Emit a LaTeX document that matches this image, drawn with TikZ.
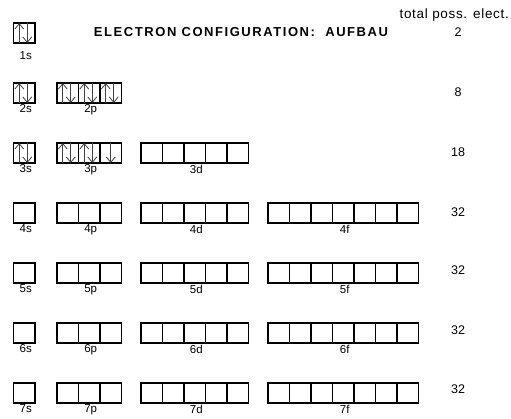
\documentclass[tikz,border=0pt]{standalone}
\usepackage{fontspec}
\setmainfont{Liberation Sans}
\usetikzlibrary{arrows.meta,calc}
\tikzset{
  orb/.style={draw, line width=1.2pt, minimum width=21.5pt, minimum height=20pt,
    inner sep=0pt, outer sep=0pt, anchor=north west},
  sublbl/.style={font=\fontsize{11.5}{12}\selectfont, anchor=north, inner sep=1.5pt},
  numlbl/.style={font=\fontsize{12.5}{13}\selectfont},
  spin/.style={line width=0.8pt, black!75, -{Straight Barb[length=5.5pt,width=9pt]}},
}
% paired electrons / single down electron in box #1
\newcommand\spinpair[1]{%
  \draw[spin] ([xshift=-5pt]#1.south) -- ([xshift=-5pt]#1.north);
  \draw[spin] ([xshift=3pt]#1.north) -- ([xshift=3pt]#1.south);}
\newcommand\spindown[1]{%
  \draw[spin] ([xshift=0pt]#1.north) -- ([xshift=0pt]#1.south);}

\begin{document}
\begin{tikzpicture}[x=1pt, y=-1pt]
  \useasboundingbox (0,0) rectangle (511,418);

  \node[font=\bfseries\fontsize{13}{14}\selectfont\addfontfeature{LetterSpace=12}] (title)
    at (241,32) {ELECTRON CONFIGURATION:\ \ AUFBAU};
  \node[font=\fontsize{13.5}{14}\selectfont\addfontfeature{LetterSpace=5}, anchor=east,
    inner sep=0pt] (head) at (509,15) {total poss. elect.};

  % orbital boxes, one row per shell
  \foreach \n/\top/\subs in {
      1/23/{s/13.5/1},
      2/83/{s/13.5/1,p/57/3},
      3/143/{s/13.5/1,p/57/3,d/141/5},
      4/203/{s/13.5/1,p/57/3,d/141/5,f/268/7},
      5/263/{s/13.5/1,p/57/3,d/141/5,f/268/7},
      6/323/{s/13.5/1,p/57/3,d/141/5,f/268/7},
      7/383/{s/13.5/1,p/57/3,d/141/5,f/268/7}}{
    \foreach \l/\x/\k in \subs {
      \foreach \i in {1,...,\k}
        \node[orb] (b\n\l-\i) at ({\x+(\i-1)*21.5},\top) {};
      \node[sublbl, yshift={-7*(\n==1)}] (lbl\n\l)
        at ($(b\n\l-1.south west)!0.5!(b\n\l-\k.south east)+(1.5,0)$) {\n\l};
    }
  }

  % totals
  \foreach \n/\y/\t in {1/32/2, 2/92/8, 3/152/18, 4/212/32, 5/270/32, 6/330/32, 7/389/32}
    \node[numlbl] (tot\n) at (458,\y) {\t};

  % electrons
  \spinpair{b1s-1}
  \spinpair{b2s-1}
  \spinpair{b2p-1} \spinpair{b2p-2} \spinpair{b2p-3}
  \spinpair{b3s-1}
  \spinpair{b3p-1} \spinpair{b3p-2} \spindown{b3p-3}

\end{tikzpicture}
\end{document}
